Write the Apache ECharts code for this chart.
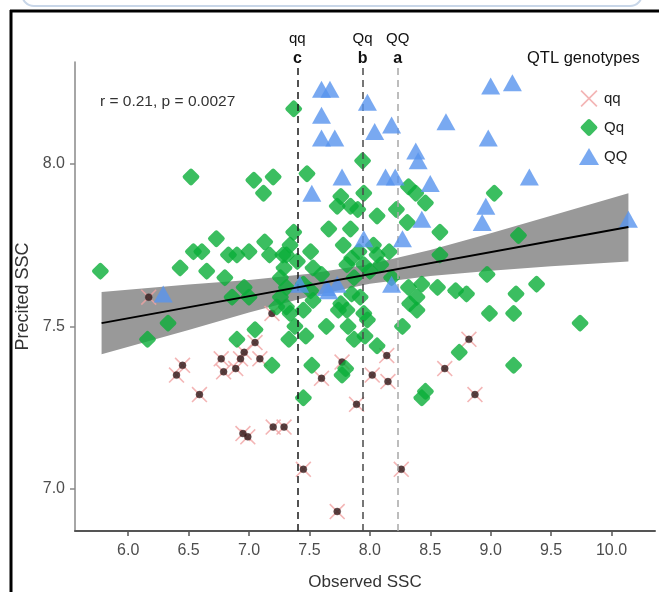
<!DOCTYPE html>
<html><head><meta charset="utf-8">
<script src="https://cdn.jsdelivr.net/npm/echarts@6/dist/echarts.min.js"></script>
<style>html,body{margin:0;padding:0;background:#fff;}#c{width:659px;height:592px;}</style>
</head><body><div id="c"></div>
<script>
const FONT = "'Liberation Sans',Arial,sans-serif";

const xTicks = [6.0, 6.5, 7.0, 7.5, 8.0, 8.5, 9.0, 9.5, 10.0];
const yTicks = [7.0, 7.5, 8.0];

const qqPoints = [
  [6.17,7.59],[6.40,7.35],[6.45,7.38],[6.59,7.29],[6.77,7.40],[6.79,7.36],[6.89,7.37],
  [6.93,7.40],[6.96,7.42],[7.05,7.45],[7.09,7.40],[6.95,7.17],[6.99,7.16],[7.20,7.19],
  [7.29,7.19],[7.45,7.06],[7.73,6.93],[7.60,7.34],[7.77,7.39],[7.89,7.26],[8.02,7.35],
  [8.14,7.41],[8.15,7.33],[8.62,7.37],[8.82,7.46],[8.87,7.29],[8.26,7.06],[7.19,7.54]
];

const QqPoints = [
  [7.37,8.17],[6.52,7.96],[7.04,7.95],[7.20,7.96],[7.12,7.91],[7.48,7.97],[6.73,7.77],
  [7.13,7.76],[7.37,7.79],[7.66,7.80],[7.84,7.80],[7.78,7.75],[7.76,7.90],[7.73,7.87],
  [7.84,7.87],[7.94,8.01],[7.95,7.91],[7.90,7.86],[8.06,7.84],[8.32,7.93],[8.38,7.91],
  [8.46,7.88],[8.31,7.82],[8.22,7.86],[9.03,7.91],[9.23,7.78],[8.58,7.79],[6.54,7.73],
  [6.61,7.73],[6.83,7.72],[6.90,7.72],[7.00,7.73],[7.17,7.72],[7.34,7.75],[7.51,7.73],
  [7.31,7.72],[7.53,7.68],[7.60,7.66],[7.85,7.71],[7.91,7.73],[8.03,7.75],[8.06,7.72],
  [8.16,7.73],[7.81,7.69],[7.95,7.69],[8.00,7.67],[7.87,7.65],[8.09,7.69],[8.18,7.65],
  [7.29,7.68],[7.26,7.65],[7.31,7.62],[7.26,7.59],[7.45,7.63],[7.51,7.61],[7.53,7.58],
  [7.45,7.55],[7.76,7.57],[7.85,7.60],[7.92,7.59],[7.81,7.55],[7.95,7.54],[8.32,7.62],
  [8.43,7.63],[8.56,7.62],[8.33,7.57],[8.39,7.59],[7.23,7.56],[7.34,7.54],[7.38,7.50],
  [7.33,7.46],[7.47,7.47],[7.64,7.50],[7.74,7.55],[7.82,7.50],[7.87,7.46],[7.96,7.47],
  [7.98,7.52],[8.06,7.44],[8.27,7.50],[8.39,7.55],[7.19,7.38],[7.52,7.38],[7.77,7.35],
  [7.80,7.37],[7.45,7.28],[8.43,7.28],[8.46,7.30],[5.77,7.67],[6.43,7.68],[6.65,7.67],
  [6.80,7.65],[6.86,7.59],[6.96,7.62],[7.00,7.59],[6.33,7.51],[6.16,7.46],[7.05,7.49],
  [6.90,7.46],[8.97,7.66],[8.58,7.72],[9.38,7.63],[9.21,7.60],[8.99,7.54],[9.19,7.54],
  [9.74,7.51],[9.19,7.38],[8.74,7.42],[8.71,7.61],[8.80,7.60],[7.31,7.56],[7.40,7.70],
  [7.28,7.72]
];

const QQPoints = [
  [7.60,8.23],[7.67,8.23],[7.60,8.15],[7.60,8.08],[7.71,8.08],[7.98,8.19],[8.04,8.10],
  [8.18,8.12],[8.63,8.13],[9.00,8.24],[9.18,8.25],[8.98,8.08],[8.38,8.04],[8.40,8.01],
  [8.50,7.94],[8.13,7.96],[8.21,7.96],[7.77,7.96],[7.52,7.91],[9.32,7.96],[8.96,7.87],
  [8.93,7.82],[8.43,7.83],[8.27,7.77],[10.14,7.83],[7.95,7.77],[7.66,7.61],[7.42,7.63],
  [8.18,7.63],[6.29,7.60],[7.64,7.62],[7.73,7.63]
];

const fitX = [5.78, 10.14];
const fitY = [7.51, 7.806];
const bandX    = [5.78, 6.5,   7.0,   7.5,   8.0,   8.5,   9.0,   9.5,   10.14];
const bandLow  = [7.414,7.489, 7.543, 7.592, 7.631, 7.655, 7.671, 7.685, 7.70];
const bandHigh = [7.606,7.629, 7.643, 7.662, 7.691, 7.735, 7.787, 7.841, 7.91];

const groupMeans = [7.40, 7.94, 8.23];
const groupGenotypes = ['qq', 'Qq', 'QQ'];
const groupLetters = ['c', 'b', 'a'];
const groupLineColors = ['#1a1a1a', '#4a4a4a', '#a8a8a8'];
const statText = 'r = 0.21, p = 0.0027';
const legendTitle = 'QTL genotypes';

const X_PATH = 'path://M0,0.7L0.7,0L5,4.3L9.3,0L10,0.7L5.7,5L10,9.3L9.3,10L5,5.7L0.7,10L0,9.3L4.3,5Z';
const DIAMOND_PATH = 'path://M4.1,0.7Q5,-0.2 5.9,0.7L9.3,4.1Q10.2,5 9.3,5.9L5.9,9.3Q5,10.2 4.1,9.3L0.7,5.9Q-0.2,5 0.7,4.1Z';

const chart = echarts.init(document.getElementById('c'), null, {renderer: 'canvas'});

chart.setOption({
  animation: false,
  backgroundColor: '#ffffff',
  textStyle: {fontFamily: FONT},
  grid: {left: 75, right: 4, top: 62, bottom: 61, containLabel: false, outerBoundsMode: 'none'},
  xAxis: {
    type: 'value', min: 5.56, max: 10.36,
    name: 'Observed SSC', nameLocation: 'middle', nameGap: 43,
    nameTextStyle: {fontFamily: FONT, fontSize: 17, color: '#333'},
    axisLine: {show: true, lineStyle: {color: '#555', width: 2}},
    axisTick: {show: true, customValues: xTicks, length: 5, lineStyle: {color: '#555', width: 1.5}},
    splitLine: {show: false},
    axisLabel: {customValues: xTicks, formatter: v => v.toFixed(1), margin: 12,
      fontFamily: FONT, fontSize: 16, color: '#4d4d4d'}
  },
  yAxis: {
    type: 'value', min: 6.87, max: 8.314,
    name: 'Precited SSC', nameLocation: 'middle', nameGap: 31,
    nameTextStyle: {fontFamily: FONT, fontSize: 18, color: '#333'},
    axisLine: {show: true, lineStyle: {color: '#888', width: 1.5}},
    axisTick: {show: true, customValues: yTicks, length: 5, lineStyle: {color: '#888', width: 1.5}},
    splitLine: {show: false},
    axisLabel: {customValues: yTicks, formatter: v => v.toFixed(1), margin: 10,
      fontFamily: FONT, fontSize: 16, color: '#4d4d4d'}
  },
  legend: {
    data: ['qq', 'Qq', 'QQ'],
    orient: 'vertical', left: 574, top: 85,
    itemWidth: 20, itemHeight: 17, itemGap: 12,
    textStyle: {fontFamily: FONT, fontSize: 15, color: '#222'},
    selectedMode: false
  },
  graphic: [
    {type: 'rect', shape: {x: 22, y: -40, width: 620, height: 46, r: 12},
      style: {fill: 'none', stroke: '#c8d6e8', lineWidth: 2}, silent: true},
    {type: 'line', shape: {x1: 10, y1: 11, x2: 659, y2: 11}, style: {stroke: '#000', lineWidth: 3}, silent: true},
    {type: 'line', shape: {x1: 11, y1: 10, x2: 11, y2: 592}, style: {stroke: '#000', lineWidth: 3}, silent: true},
    {type: 'text', left: 100, top: 94, style: {text: statText, font: "15.5px " + FONT, fill: '#333'}},
    {type: 'text', left: 527, top: 50, style: {text: legendTitle, font: "16.5px " + FONT, fill: '#111'}}
  ],
  series: [
    {
      type: 'custom', name: 'band', silent: true, z: 1,
      data: [[bandX[0], bandLow[0]]],
      renderItem: function (params, api) {
        const pts = [];
        for (let i = 0; i < bandX.length; i++) pts.push(api.coord([bandX[i], bandHigh[i]]));
        for (let i = bandX.length - 1; i >= 0; i--) pts.push(api.coord([bandX[i], bandLow[i]]));
        return {type: 'polygon', shape: {points: pts}, style: {fill: '#999999'}};
      }
    },
    {
      type: 'scatter', name: 'qq', z: 2, data: qqPoints,
      symbol: X_PATH, symbolSize: 16,
      itemStyle: {color: '#f0a2a2'}
    },
    {
      type: 'scatter', name: 'qq-dot', z: 3, data: qqPoints,
      symbol: 'circle', symbolSize: 7,
      itemStyle: {color: '#2c1616', borderColor: '#5a3030', borderWidth: 0.5}
    },
    {
      type: 'scatter', name: 'Qq', z: 4, data: QqPoints,
      symbol: DIAMOND_PATH, symbolSize: 17,
      itemStyle: {color: '#0aae38'}
    },
    {
      type: 'scatter', name: 'QQ', z: 5, data: QQPoints,
      symbol: 'triangle', symbolSize: [19, 17],
      itemStyle: {color: '#5893ee'}
    },
    {
      type: 'line', name: 'fit', z: 6, silent: true,
      data: fitX.map((x, i) => [x, fitY[i]]),
      symbol: 'none', lineStyle: {color: '#000', width: 2}
    },
    {
      type: 'line', name: 'means', z: 7, silent: true, data: [],
      markLine: {
        silent: true, symbol: 'none', animation: false,
        data: groupMeans.map((m, i) => ({
          xAxis: m,
          lineStyle: {color: groupLineColors[i], width: 1.5, type: [7, 5]},
          label: {
            show: true, position: 'end', distance: -7,
            formatter: '{t|' + groupGenotypes[i] + '}\n{b|' + groupLetters[i] + '}',
            rich: {
              t: {fontFamily: FONT, fontSize: 15, color: '#111', lineHeight: 20},
              b: {fontFamily: FONT, fontSize: 16, fontWeight: 'bold', color: '#111', lineHeight: 20}
            }
          }
        }))
      }
    }
  ]
});
</script>
</body></html>
